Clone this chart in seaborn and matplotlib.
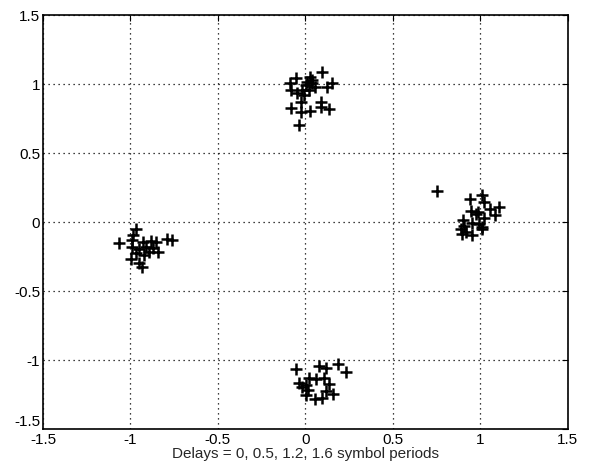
import numpy as np
import pandas as pd
import seaborn as sns
import matplotlib
matplotlib.use("Agg")
import matplotlib.pyplot as plt

top_x = [0.093, -0.055, 0.025, -0.09, 0.011, 0.036, 0.15, 0.126, 0.055, -0.084, -0.017,
         -0.046, -0.007, 0.021, -0.027, 0.087, -0.084, -0.027, 0.025, 0.135, 0.087, -0.036,
         0.005, 0.04]
top_y = [1.085, 1.046, 1.053, 1.005, 1.017, 1.005, 1.005, 0.976, 0.98, 0.957, 0.957,
         0.933, 0.92, 0.957, 0.872, 0.872, 0.824, 0.8, 0.807, 0.819, 0.836, 0.703,
         0.99, 1.03]

right_x = [0.754, 1.007, 0.939, 1.021, 1.107, 1.053, 0.945, 0.989, 0.973, 1.084, 1.021,
           0.901, 0.95, 0.992, 1.011, 0.907, 0.888, 0.916, 0.893, 0.954, 1.01]
right_y = [0.227, 0.196, 0.164, 0.143, 0.106, 0.092, 0.082, 0.075, 0.058, 0.051, 0.027,
           0.014, -0.005, -0.014, -0.038, -0.029, -0.053, -0.07, -0.087, -0.094, -0.05]

left_x = [-0.97, -0.985, -0.99, -1.066, -0.931, -0.884, -0.855, -0.789, -0.764, -0.989,
          -0.95, -0.913, -0.893, -0.84, -0.97, -0.922, -0.998, -0.95, -0.935, -0.87]
left_y = [-0.053, -0.094, -0.13, -0.15, -0.143, -0.135, -0.147, -0.125, -0.13, -0.183,
          -0.198, -0.179, -0.215, -0.215, -0.227, -0.239, -0.27, -0.295, -0.328, -0.19]

bottom_x = [-0.055, 0.078, 0.116, 0.189, 0.234, 0.021, 0.059, 0.107, -0.036, 0.002,
            -0.017, 0.135, 0.017, 0.116, 0.158, 0.055, 0.097, 0.002]
bottom_y = [-1.065, -1.041, -1.06, -1.031, -1.085, -1.133, -1.138, -1.133, -1.169, -1.181,
            -1.193, -1.176, -1.217, -1.225, -1.249, -1.283, -1.273, -1.254]

ticks = [-1.5, -1, -0.5, 0, 0.5, 1, 1.5]
tick_labels = ["-1.5", "-1", "-0.5", "0", "0.5", "1", "1.5"]
xlabel = "Delays = 0, 0.5, 1.2, 1.6 symbol periods"

df = pd.DataFrame({
    "x": top_x + right_x + left_x + bottom_x,
    "y": top_y + right_y + left_y + bottom_y,
})

sns.set_style("white")
plt.rcParams['font.family'] = ['Liberation Sans', 'DejaVu Sans']

fig = plt.figure(figsize=(5.89, 4.72), dpi=100)
ax = fig.add_axes([0.073, 0.091, 0.891, 0.877])

sns.scatterplot(data=df, x="x", y="y", marker="+", color="black", s=70,
                linewidth=1.8, ax=ax, legend=False)

ax.set_xlim(-1.5, 1.5)
ax.set_ylim(-1.5, 1.5)
ax.set_xticks(ticks)
ax.set_xticklabels(tick_labels)
ax.set_yticks(ticks)
ax.set_yticklabels(tick_labels)
ax.grid(True, color="black", linestyle=(0, (1, 3)), linewidth=0.9)
for s in ax.spines.values():
    s.set_color("black")
    s.set_linewidth(1.2)
ax.tick_params(direction="in", length=4, width=0.8, top=True, right=True,
               labelsize=11, colors="black")
ax.tick_params(axis="x", pad=3)
ax.tick_params(axis="y", pad=2)
ax.get_yticklabels()[0].set_verticalalignment("bottom")
ax.set_xlabel(xlabel, fontsize=11, labelpad=0)
ax.set_ylabel("")

fig.savefig("out.png", dpi=100)
